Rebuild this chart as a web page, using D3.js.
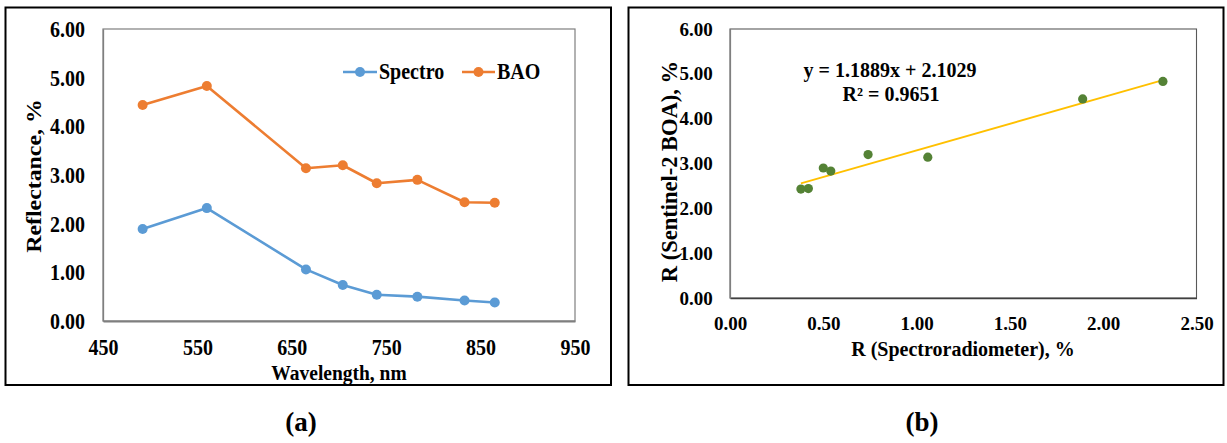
<!DOCTYPE html>
<html>
<head>
<meta charset="utf-8">
<script src="https://cdn.jsdelivr.net/npm/d3@7"></script>
<style>
  html, body { margin: 0; padding: 0; background: #fff; }
  svg text { font-family: "Liberation Serif", "Times New Roman", serif; font-weight: bold; fill: #000; }
</style>
</head>
<body>
<svg id="chart" width="1227" height="443"></svg>
<script>
// ---------- data ----------
const wavelengths = [492, 560, 665, 704, 740, 783, 833, 865];
const spectro = [1.89, 2.32, 1.06, 0.74, 0.54, 0.50, 0.42, 0.38];
const bao = [4.44, 4.83, 3.14, 3.20, 2.83, 2.90, 2.44, 2.43];
const seriesNames = ["Spectro", "BAO"];
const xTicksA = [450, 550, 650, 750, 850, 950];
const yTicks = [0, 1, 2, 3, 4, 5, 6];
const xTicksB = [0, 0.5, 1.0, 1.5, 2.0, 2.5];
const slope = 1.1889, intercept = 2.1029, rSquared = 0.9651;
const panelLabels = ["(a)", "(b)"];

const colSpectro = "#5B9BD5", colBao = "#ED7D31", colPts = "#548235", colTrend = "#FFC000";

const svg = d3.select("#chart");
svg.append("rect").attr("width", 1227).attr("height", 443).attr("fill", "#fff");

const SY = 1.18; // vertical stretch of left panel text
const fmt2 = d3.format(".2f");

// ---------- Panel A ----------
svg.append("rect").attr("x", 5.5).attr("y", 7.5).attr("width", 605.5).attr("height", 377.5)
  .attr("fill", "none").attr("stroke", "#000").attr("stroke-width", 2);

const xA = d3.scaleLinear().domain([450, 950]).range([103, 575]);
const yA = d3.scaleLinear().domain([0, 6]).range([321, 29]);

svg.append("rect").attr("x", 103).attr("y", 29).attr("width", 472).attr("height", 292)
  .attr("fill", "none").attr("stroke", "#7f7f7f").attr("stroke-width", 1.2);

const axA_x = svg.append("g").attr("transform", "translate(0,321)")
  .call(d3.axisBottom(xA).tickValues(xTicksA).tickSize(0).tickSizeOuter(0).tickFormat(d3.format("d")));
axA_x.select(".domain").attr("stroke", "#7f7f7f").attr("stroke-width", 2);
axA_x.selectAll("text").attr("font-size", 20).attr("dy", null).attr("y", 34.5 / SY)
  .attr("transform", `scale(1,${SY})`).style("font-family", "Liberation Serif").style("font-weight", "bold");

const axA_y = svg.append("g").attr("transform", "translate(103,0)")
  .call(d3.axisLeft(yA).tickValues(yTicks).tickSize(0).tickSizeOuter(0).tickPadding(18).tickFormat(fmt2));
axA_y.select(".domain").attr("stroke", "#7f7f7f").attr("stroke-width", 1.3);
axA_y.selectAll("text").attr("font-size", 20).attr("transform", `scale(1,${SY})`)
  .style("font-family", "Liberation Serif").style("font-weight", "bold");

const lineA = d3.line().x((d, i) => xA(wavelengths[i])).y(d => yA(d));
[[spectro, colSpectro], [bao, colBao]].forEach(([vals, c]) => {
  svg.append("path").datum(vals).attr("d", lineA).attr("fill", "none")
    .attr("stroke", c).attr("stroke-width", 2.6).attr("stroke-linejoin", "round");
  svg.append("g").selectAll("circle").data(vals).join("circle")
    .attr("cx", (d, i) => xA(wavelengths[i])).attr("cy", d => yA(d)).attr("r", 5).attr("fill", c);
});

// legend
const legend = [
  { name: seriesNames[0], c: colSpectro, x0: 343, x1: 377, tx: 379 },
  { name: seriesNames[1], c: colBao, x0: 462, x1: 495, tx: 497 }
];
legend.forEach(l => {
  svg.append("line").attr("x1", l.x0).attr("x2", l.x1).attr("y1", 72).attr("y2", 72)
    .attr("stroke", l.c).attr("stroke-width", 2.6);
  svg.append("circle").attr("cx", (l.x0 + l.x1) / 2).attr("cy", 72).attr("r", 5).attr("fill", l.c);
  svg.append("text").attr("transform", `translate(${l.tx},79) scale(1,${SY})`)
    .attr("font-size", 20).text(l.name);
});

svg.append("text").attr("transform", `translate(339,380) scale(1,1.08)`)
  .attr("text-anchor", "middle").attr("font-size", 19.5).text("Wavelength, nm");
svg.append("text").attr("transform", `translate(41,176) rotate(-90) scale(${SY},1)`)
  .attr("text-anchor", "middle").attr("font-size", 20.2).text("Reflectance, %");

// ---------- Panel B ----------
svg.append("rect").attr("x", 628.5).attr("y", 7.5).attr("width", 595).attr("height", 377.5)
  .attr("fill", "none").attr("stroke", "#000").attr("stroke-width", 2);

const xB = d3.scaleLinear().domain([0, 2.5]).range([730, 1196.5]);
const yB = d3.scaleLinear().domain([0, 6]).range([298, 29]);

svg.append("rect").attr("x", 730).attr("y", 29).attr("width", 466.5).attr("height", 269)
  .attr("fill", "none").attr("stroke", "#595959").attr("stroke-width", 1.1);

const axB_x = svg.append("g").attr("transform", "translate(0,298)")
  .call(d3.axisBottom(xB).tickValues(xTicksB).tickSize(0).tickSizeOuter(0).tickFormat(fmt2));
axB_x.select(".domain").attr("stroke", "#404040").attr("stroke-width", 1.4);
axB_x.selectAll("text").attr("font-size", 19).attr("dy", null).attr("y", 31.5)
  .style("font-family", "Liberation Serif").style("font-weight", "bold");

const axB_y = svg.append("g").attr("transform", "translate(730,0)")
  .call(d3.axisLeft(yB).tickValues(yTicks).tickSize(0).tickSizeOuter(0).tickPadding(17.3).tickFormat(fmt2));
axB_y.select(".domain").attr("stroke", "#7f7f7f").attr("stroke-width", 1.2);
axB_y.selectAll("text").attr("font-size", 19)
  .style("font-family", "Liberation Serif").style("font-weight", "bold");

// trendline
const xMin = d3.min(spectro), xMax = d3.max(spectro);
svg.append("line")
  .attr("x1", xB(xMin)).attr("y1", yB(slope * xMin + intercept))
  .attr("x2", xB(xMax)).attr("y2", yB(slope * xMax + intercept))
  .attr("stroke", colTrend).attr("stroke-width", 1.8);

svg.append("g").selectAll("circle").data(spectro).join("circle")
  .attr("cx", d => xB(d)).attr("cy", (d, i) => yB(bao[i])).attr("r", 4.6).attr("fill", colPts);

svg.append("text").attr("x", 890).attr("y", 77.3).attr("text-anchor", "middle").attr("font-size", 20)
  .text(`y = ${slope}x + ${intercept}`);
svg.append("text").attr("x", 891).attr("y", 100.7).attr("text-anchor", "middle").attr("font-size", 20)
  .text(`R² = ${rSquared}`);

svg.append("text").attr("x", 963).attr("y", 356).attr("text-anchor", "middle").attr("font-size", 20)
  .text("R (Spectroradiometer), %");
svg.append("text").attr("transform", "translate(676.5,171.5) rotate(-90)")
  .attr("text-anchor", "middle").attr("font-size", 22.5).text("R (Sentinel-2 BOA), %");

// ---------- panel labels ----------
svg.append("text").attr("x", 301).attr("y", 431).attr("text-anchor", "middle").attr("font-size", 27).text(panelLabels[0]);
svg.append("text").attr("x", 922).attr("y", 431).attr("text-anchor", "middle").attr("font-size", 27).text(panelLabels[1]);
</script>
</body>
</html>
